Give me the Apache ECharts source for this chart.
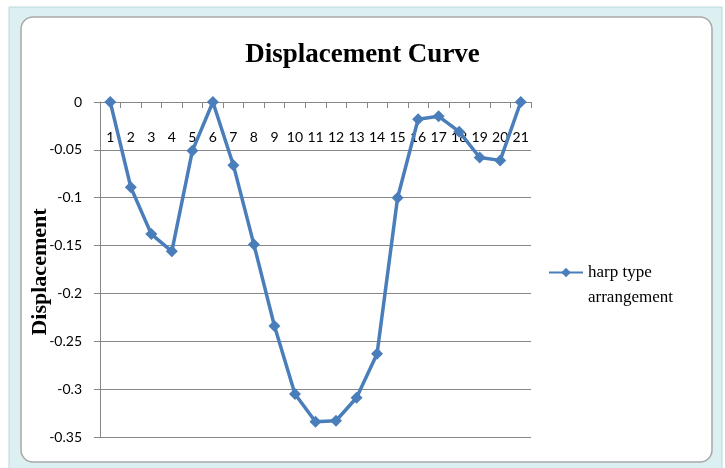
<!DOCTYPE html>
<html>
<head>
<meta charset="utf-8">
<script src="https://cdn.jsdelivr.net/npm/echarts@6/dist/echarts.min.js"></script>
<style>
html,body{margin:0;padding:0;background:#fff;}
#c{width:725px;height:468px;}
</style>
</head>
<body>
<div id="c"></div>
<script>
const categories = ['1','2','3','4','5','6','7','8','9','10','11','12','13','14','15','16','17','18','19','20','21'];
const displacement = [0, -0.089, -0.138, -0.156, -0.051, 0, -0.066, -0.149, -0.234, -0.305, -0.334, -0.333, -0.309, -0.263, -0.100, -0.018, -0.015, -0.031, -0.058, -0.061, 0];
const yTicks = [0, -0.05, -0.1, -0.15, -0.2, -0.25, -0.3, -0.35];
const seriesName = 'harp type arrangement';
const yAxisTitle = 'Displacement';

const chart = echarts.init(document.getElementById('c'));
chart.setOption({
  animation: false,
  backgroundColor: '#ffffff',
  graphic: [
    { type: 'rect', silent: true, z: -10,
      shape: { x: 9, y: 7, width: 713, height: 470 },
      style: { fill: '#dceff1', stroke: '#bcd9dd', lineWidth: 1 } },
    { type: 'rect', silent: true, z: -9,
      shape: { x: 21, y: 17, width: 691, height: 445, r: 12 },
      style: { fill: '#ffffff', stroke: '#a8a8a8', lineWidth: 1.5 } },
    { type: 'text', silent: true, z: 5, x: 40, y: 272, rotation: Math.PI / 2,
      style: { text: yAxisTitle, align: 'center', verticalAlign: 'middle',
        fontFamily: 'Liberation Serif', fontWeight: 'bold', fontSize: 22, fill: '#000' } }
  ],
  title: {
    text: 'Displacement Curve',
    left: 'center',
    top: 37,
    textStyle: { fontFamily: 'Liberation Serif', fontWeight: 'bold', fontSize: 27, color: '#000' }
  },
  legend: {
    left: 543,
    top: 230,
    itemWidth: 34,
    itemHeight: 12,
    formatter: function () { return ' \nharp type\narrangement'; },
    textStyle: { fontFamily: 'Liberation Serif', fontSize: 17, color: '#000', lineHeight: 25 },
    data: [seriesName]
  },
  grid: { left: 100, right: 194, top: 102, bottom: 31 },
  xAxis: {
    type: 'category',
    position: 'top',
    data: categories,
    boundaryGap: true,
    axisLine: { onZero: false, lineStyle: { color: '#868686', width: 1 } },
    axisTick: { show: true, inside: true, length: 6, alignWithLabel: false, lineStyle: { color: '#868686' } },
    axisLabel: { inside: true, margin: 28, fontFamily: 'Lato', fontSize: 14, color: '#000', interval: 0 },
    splitLine: { show: false }
  },
  yAxis: {
    type: 'value',
    min: -0.35,
    max: 0,
    interval: 0.05,
    axisLine: { show: true, lineStyle: { color: '#868686', width: 1 } },
    axisTick: { show: true, length: 6, lineStyle: { color: '#868686' } },
    axisLabel: {
      margin: 18, fontFamily: 'Lato', fontSize: 14, color: '#000',
      formatter: function (v) {
        const r = Math.round(v * 100) / 100;
        for (const t of yTicks) { if (Math.abs(t - r) < 1e-9) return String(t); }
        return String(r);
      }
    },
    splitLine: { show: true, lineStyle: { color: '#868686', width: 1 } }
  },
  series: [{
    name: seriesName,
    type: 'line',
    data: displacement,
    symbol: 'diamond',
    symbolSize: 12,
    lineStyle: { color: '#4a7ebb', width: 3.5 },
    itemStyle: { color: '#4a7ebb' },
    z: 3
  }]
});
</script>
</body>
</html>
